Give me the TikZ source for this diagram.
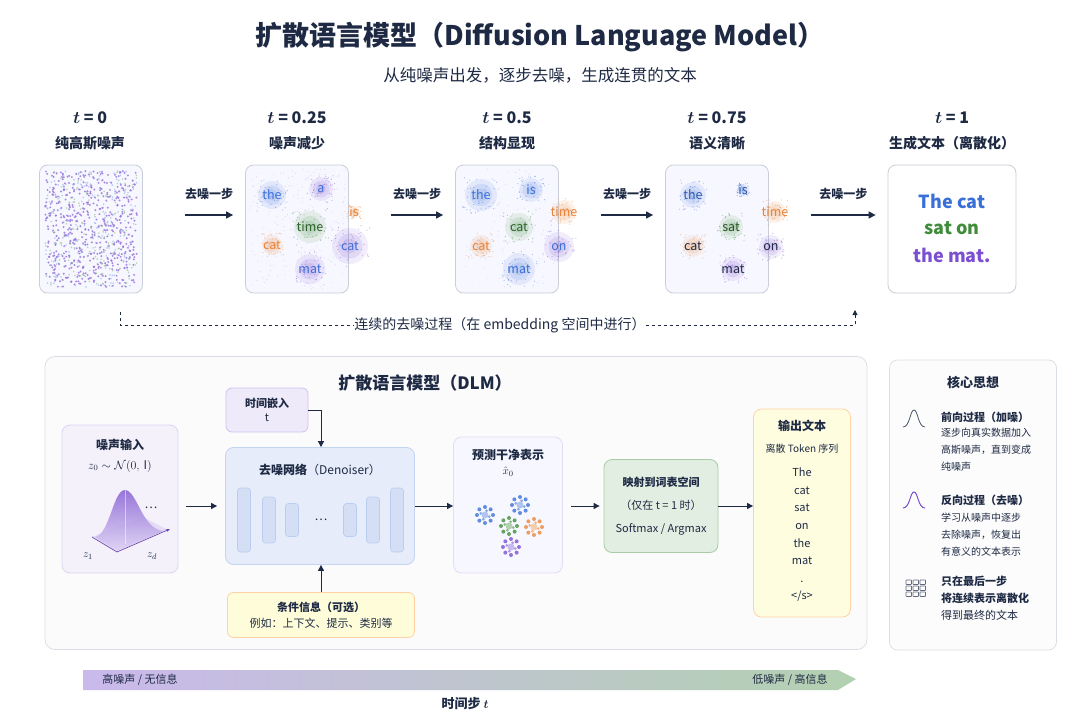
\documentclass[tikz,border=0pt]{standalone}
\usepackage{bm}
\usepackage{fontspec}
\setmainfont{Noto Sans CJK SC}
\usetikzlibrary{arrows.meta,calc}
\definecolor{navy}{HTML}{1E2A44}
\definecolor{cblue}{HTML}{3B6FD8}
\definecolor{cgreen}{HTML}{3F8C3A}
\definecolor{cpurp}{HTML}{7B4FD0}
\definecolor{corange}{HTML}{E8843A}
\definecolor{bord}{HTML}{C9CED8}
\tikzset{
 x=1pt,y=-1pt,
 every node/.style={text=navy,inner sep=0pt},
 stage/.style={draw=bord,line width=0.8pt,rounded corners=8pt,fill=blue!3},
 arr/.style={-{Triangle[length=7pt,width=7pt]},line width=1.3pt,draw=navy},
 sarr/.style={-{Triangle[length=6pt,width=6pt]},line width=1pt,draw=navy},
 panel/.style={draw=bord!70,line width=0.7pt,rounded corners=10pt,fill=gray!3},
 wl/.style={font=\fontsize{12.5}{12}\selectfont},
}
\newcommand{\blob}[4]{% x y color r
 \fill[#3,opacity=.10] (#1,#2) circle (#4);
 \fill[#3,opacity=.13] (#1,#2) circle (#4*0.7);
 \fill[#3,opacity=.13] (#1,#2) circle (#4*0.4);
 \foreach \k in {1,...,40}{\fill[#3,opacity=.45] ($(#1,#2)+(rand*#4*1.15,rand*#4*1.15)$) circle (0.6);}
}
\begin{document}
\begin{tikzpicture}
\useasboundingbox (0,0) rectangle (1080,720);
\fill[white] (0,0) rectangle (1080,720);
\pgfmathsetseed{7}
% title
\node[font=\fontsize{27}{27}\selectfont\bfseries] (title) at (540,37) {扩散语言模型（Diffusion Language Model）};
\node[font=\fontsize{16.5}{16}\selectfont] (sub) at (540,75) {从纯噪声出发，逐步去噪，生成连贯的文本};
% stage labels
\foreach \cx/\tt/\lab [count=\i] in {90/0/纯高斯噪声,297/0.25/噪声减少,507/0.5/结构显现,717/0.75/语义清晰,952/1/生成文本（离散化）}{
 \node[font=\fontsize{16}{16}\selectfont\bfseries] (t\i) at (\cx,118) {$\bm{t}$ = \tt};
 \node[font=\fontsize{14}{14}\selectfont\bfseries] (l\i) at (\cx,143) {\lab};
}
% boxes
\node[stage,minimum width=103pt,minimum height=128pt] (b1) at (91,229) {};
\node[stage,minimum width=103pt,minimum height=128pt] (b2) at (297,229) {};
\node[stage,minimum width=103pt,minimum height=128pt] (b3) at (507,229) {};
\node[stage,minimum width=103pt,minimum height=128pt] (b4) at (717,229) {};
\node[stage,fill=white,minimum width=128pt,minimum height=128pt] (b5) at (952,229) {};
% noise dots
\foreach \k in {1,...,900}{
 \pgfmathsetmacro{\px}{91+rand*46}\pgfmathsetmacro{\py}{229+rand*58}
 \pgfmathsetmacro{\cc}{rnd}
 \ifdim\cc pt<0.6pt \fill[cpurp!80,opacity=.8] (\px,\py) circle (1.1);
 \else\ifdim\cc pt<0.8pt \fill[cgreen!60,opacity=.6] (\px,\py) circle (0.9);
 \else \fill[cblue!60,opacity=.6] (\px,\py) circle (0.9);\fi\fi
}
% stage 2
\foreach \k in {1,...,200}{\fill[cpurp!60,opacity=.3] (297+rand*48,229+rand*60) circle (0.6);}
\blob{272}{195}{cblue}{14}\blob{321}{189}{cpurp}{12}\blob{310}{227}{cgreen}{16}
\blob{272}{245}{corange}{10}\blob{350}{246}{cpurp}{18}\blob{310}{269}{cpurp}{15}\blob{354}{212}{corange}{6}
\node[wl,text=cblue] (w21) at (272,195) {the};
\node[wl,text=cblue] (w22) at (321,189) {a};
\node[wl,text=corange] (w23) at (354,212) {is};
\node[wl,text=cgreen!70!black] (w24) at (310,227) {time};
\node[wl,text=corange] (w25) at (272,245) {cat};
\node[wl,text=cblue] (w26) at (350,246) {cat};
\node[wl,text=cblue] (w27) at (310,269) {mat};
% stage 3
\foreach \k in {1,...,80}{\fill[cpurp!60,opacity=.3] (507+rand*48,229+rand*60) circle (0.6);}
\blob{481}{195}{cblue}{16}\blob{531}{190}{cblue}{12}\blob{564}{212}{corange}{12}
\blob{519}{227}{cgreen}{14}\blob{481}{246}{corange}{11}\blob{559}{247}{cpurp}{15}\blob{519}{269}{cblue}{16}
\node[wl,text=cblue] (w31) at (481,195) {the};
\node[wl,text=cblue] (w32) at (531,190) {is};
\node[wl,text=corange] (w33) at (564,212) {time};
\node[wl,text=cgreen!70!black] (w34) at (519,227) {cat};
\node[wl,text=corange] (w35) at (481,246) {cat};
\node[wl,text=cblue] (w36) at (559,247) {on};
\node[wl,text=cblue] (w37) at (519,269) {mat};
% stage 4
\blob{693}{195}{cblue}{13}\blob{743}{190}{cblue}{6}\blob{775}{212}{corange}{11}
\blob{731}{227}{cgreen}{12}\blob{693}{246}{corange}{11}\blob{771}{247}{cpurp}{12}\blob{733}{269}{cpurp}{12}
\node[wl,text=cblue!80!black] (w41) at (693,195) {the};
\node[wl,text=cblue!80!black] (w42) at (743,190) {is};
\node[wl,text=corange] (w43) at (775,212) {time};
\node[wl,text=cgreen!60!black] (w44) at (731,227) {sat};
\node[wl,text=navy] (w45) at (693,246) {cat};
\node[wl,text=navy] (w46) at (771,247) {on};
\node[wl,text=navy] (w47) at (733,269) {mat};
% final text
\node[font=\fontsize{18}{18}\selectfont\bfseries,text=cblue] (f1) at (952,201) {The cat};
\node[font=\fontsize{18}{18}\selectfont\bfseries,text=cgreen] (f2) at (952,228) {sat on};
\node[font=\fontsize{18}{18}\selectfont\bfseries,text=cpurp] (f3) at (952,255) {the mat.};
% step arrows
\foreach \a/\b/\i in {b1/b2/1,b2/b3/2,b3/b4/3,b4/b5/4}{
 \draw[arr] ($(\a.east)+(42,-14)$) coordinate (s\i) -- ($(\b.west)+(-12,-14)$) coordinate (e\i);
 \node[font=\fontsize{12}{12}\selectfont\bfseries] (ds\i) at ($(s\i)!0.5!(e\i)+(0,-21)$) {去噪一步};
}
% dashed process
\node[font=\fontsize{14}{14}\selectfont] (proc) at (500,325) {连续的去噪过程（在 embedding 空间中进行）};
\coordinate (pa) at (120,312); \coordinate (pb) at (855,310);
\draw[dashed,line width=0.8pt,navy] (pa) |- (proc.west);
\draw[dashed,line width=0.8pt,navy,-{Triangle[length=5pt,width=5pt]}] (proc.east) -| (pb);
% bottom panel
\node[panel,minimum width=822pt,minimum height=293pt] (pan) at (456,503) {};
\node[font=\fontsize{17}{17}\selectfont\bfseries] (dlm) at (425,383) {扩散语言模型（DLM）};
% noise input
\node[draw=cpurp!25,fill=cpurp!8,rounded corners=8pt,minimum width=116pt,minimum height=148pt,line width=0.8pt] (ni) at (120,499) {};
\node[font=\fontsize{12}{12}\selectfont\bfseries] (nit) at (120,445) {噪声输入};
\node[font=\fontsize{12}{12}\selectfont] (niz) at (120,466) {$z_0 \sim \mathcal{N}(0,\,\mathrm{I})$};
\fill[cpurp!20] (92,537) -- (117,552) -- (168,530) -- (143,517) -- cycle;
\draw[cpurp!80!black,line width=0.6pt] (92,537) -- (117,552);
\draw[cpurp!80!black,line width=0.6pt,-{Stealth[length=4pt]}] (117,552) -- (170,529);
\shade[top color=cpurp!90,bottom color=cpurp!25,opacity=.85] (95,537) .. controls (110,534) and (113,490) .. (125,490) .. controls (137,490) and (142,530) .. (164,531) -- (140,541) -- (117,551) -- cycle;
\draw[white,opacity=.5] (125,490) -- (125,544);
\node[font=\fontsize{12}{12}\selectfont] (dd) at (151,508) {\dots};
\node[font=\fontsize{11}{11}\selectfont] (z1) at (88,556) {$z_1$};
\node[font=\fontsize{11}{11}\selectfont] (zd) at (152,556) {$z_d$};
% time embedding
\node[draw=cpurp!35,fill=cpurp!12,rounded corners=6pt,minimum width=82pt,minimum height=44pt,line width=0.8pt,align=center,font=\fontsize{11}{14}\selectfont] (te) at (267,410) {\textbf{时间嵌入}\\t};
% denoiser
\node[draw=cblue!30,fill=cblue!13,rounded corners=8pt,minimum width=189pt,minimum height=117pt,line width=0.8pt] (den) at (320,506) {};
\node[font=\fontsize{12}{12}\selectfont] (dent) at (320,470) {\textbf{去噪网络}（Denoiser）};
\foreach \bx/\bh [count=\j] in {244/64,269/46,292/33,350/33,373/46,397/64}{
 \node[draw=cblue!35,fill=cblue!22,rounded corners=3pt,minimum width=13pt,minimum height=\bh pt,line width=0.6pt] (bar\j) at (\bx,520) {};
}
\node[font=\fontsize{12}{12}\selectfont] (dend) at (321,520) {\dots};
% condition
\node[draw=orange!35,fill=yellow!15,rounded corners=6pt,minimum width=187pt,minimum height=45pt,line width=0.8pt,align=center,font=\fontsize{11}{16}\selectfont] (cond) at (321,615) {\textbf{条件信息（可选）}\\例如：上下文、提示、类别等};
% predicted
\node[draw=cpurp!20,fill=blue!3,rounded corners=8pt,minimum width=109pt,minimum height=136pt,line width=0.8pt] (pred) at (508,505) {};
\node[font=\fontsize{12}{12}\selectfont\bfseries] (predt) at (508,455) {预测干净表示};
\node[font=\fontsize{11}{11}\selectfont] (predx) at (508,472) {$\hat{x}_0$};
\foreach \ccx/\ccy/\col in {485/515/cblue,520/505/cblue,509/526/cgreen,534/527/corange,511/547/cpurp}{
 \fill[\col!40] (\ccx,\ccy) circle (3.5);
 \foreach \ang in {0,45,...,315}{\fill[\col!80] ($(\ccx,\ccy)+(\ang:8)$) circle (2);}
 \foreach \ang in {20,110,200,290}{\fill[\col!60] ($(\ccx,\ccy)+(\ang:4.5)$) circle (1.5);}
}
% map
\node[draw=cgreen!45,fill=cgreen!15,rounded corners=8pt,minimum width=114pt,minimum height=93pt,line width=0.8pt,align=center,font=\fontsize{11}{23}\selectfont] (map) at (661,506) {\textbf{映射到词表空间}\\（仅在 t = 1 时）\\Softmax / Argmax};
% output
\node[draw=orange!35,fill=yellow!12,rounded corners=8pt,minimum width=97pt,minimum height=208pt,line width=0.8pt] (out) at (802,513) {};
\node[font=\fontsize{12}{12}\selectfont\bfseries] (outt) at (802,426) {输出文本};
\node[font=\fontsize{10}{10}\selectfont] (outs) at (802,449) {离散 Token 序列};
\node[align=center,font=\fontsize{11}{17.6}\selectfont] (outw) at (802,535) {The\\cat\\sat\\on\\the\\mat\\.\\</s>};
% arrows
\coordinate (ay) at (0,506);
\draw[sarr] ($(ni.east |- ay)+(8,0)$) -- ($(den.west |- ay)+(-8,0)$);
\draw[sarr] (den.east |- ay) -- (pred.west |- ay);
\draw[sarr] ($(pred.east |- ay)+(8,0)$) -- ($(map.west |- ay)+(-4,0)$);
\draw[sarr] (map.east |- ay) -- (out.west |- ay);
\coordinate (tk) at (321,410);
\draw[sarr] (te.east) -- (tk) -- (tk |- den.north);
\draw[sarr] (cond.north -| tk) -- (tk |- den.south);
% right panel
\node[draw=bord!70,fill=gray!2,rounded corners=8pt,minimum width=167pt,minimum height=290pt,line width=0.7pt] (kp) at (973,505) {};
\node[font=\fontsize{13}{13}\selectfont\bfseries] (kpt) at (973,382) {核心思想};
\draw[navy!80,line width=0.8pt] (903,427) .. controls (910,427) and (910,410) .. (914,410) .. controls (918,410) and (918,427) .. (925,427);
\draw[cpurp,line width=1pt] (903,508) .. controls (910,508) and (910,492) .. (914,492) .. controls (918,492) and (918,508) .. (925,508);
\foreach \gx in {0,1,2}\foreach \gy in {0,1,2}{\draw[navy!70,line width=0.6pt,rounded corners=0.5pt] (906+\gx*7,580+\gy*6) rectangle ++(5.5,4.5);}
\node[anchor=west,font=\fontsize{11}{11}\selectfont\bfseries] (k1) at (941,417) {前向过程（加噪）};
\node[anchor=north west,align=left,font=\fontsize{10}{17}\selectfont] (k1b) at (941,428) {逐步向真实数据加入\\高斯噪声，直到变成\\纯噪声};
\node[anchor=west,font=\fontsize{11}{11}\selectfont\bfseries] (k2) at (941,500) {反向过程（去噪）};
\node[anchor=north west,align=left,font=\fontsize{10}{17}\selectfont] (k2b) at (941,513) {学习从噪声中逐步\\去除噪声，恢复出\\有意义的文本表示};
\node[anchor=north west,align=left,font=\fontsize{11}{17}\selectfont] (k3) at (941,576) {\textbf{只在最后一步}\\\textbf{将连续表示离散化}\\得到最终的文本};
% bottom gradient arrow
\shade[left color=cpurp!40,right color=cgreen!40] (83,670) -- (838,670) -- (856,679) -- (838,690) -- (83,690) -- cycle;
\node[font=\fontsize{11}{11}\selectfont] (hn) at (140,680) {高噪声 / 无信息};
\node[font=\fontsize{11}{11}\selectfont] (ln) at (790,680) {低噪声 / 高信息};
\node[font=\fontsize{13}{13}\selectfont\bfseries] (ts) at (465,704) {时间步 $\bm{t}$};
\end{tikzpicture}
\end{document}
